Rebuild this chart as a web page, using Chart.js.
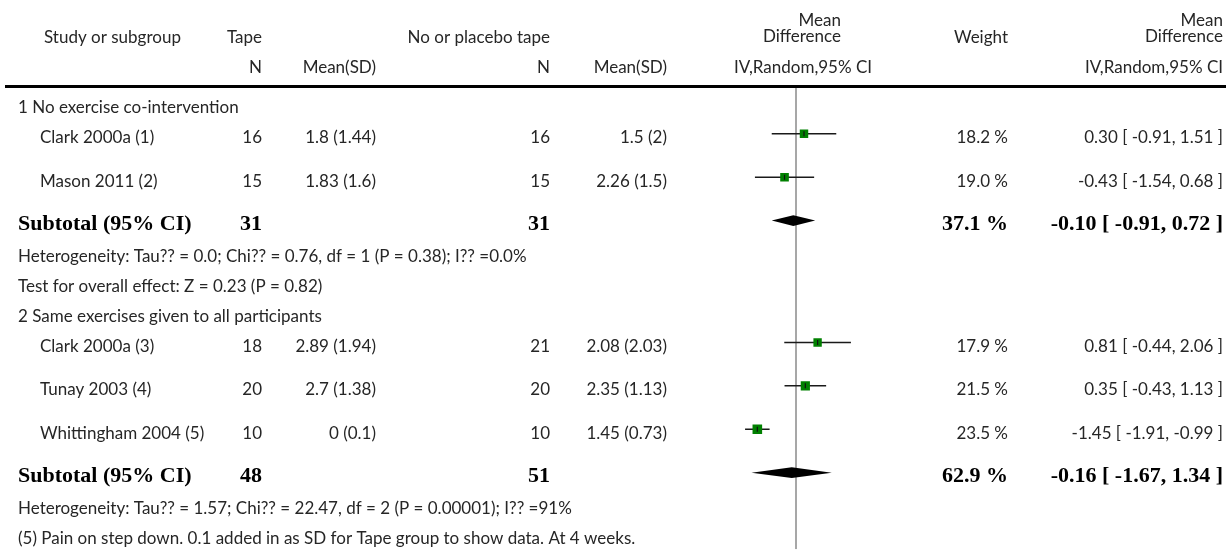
<!DOCTYPE html>
<html>
<head>
<meta charset="utf-8">
<script src="https://cdn.jsdelivr.net/npm/chart.js@4"></script>
<style>
  body { margin: 0; background: #fff; }
  #wrap { position: relative; width: 1226px; height: 556px; }
</style>
</head>
<body>
<div id="wrap"><canvas id="forestChart"></canvas></div>
<script>
// study rows
const studies = ['Clark 2000a (1)', 'Mason 2011 (2)', 'Clark 2000a (3)', 'Tunay 2003 (4)', 'Whittingham 2004 (5)'];
const studyGroup = [0, 0, 1, 1, 1];
const tapeN = [16, 15, 18, 20, 10];
const tapeMeanSD = ['1.8 (1.44)', '1.83 (1.6)', '2.89 (1.94)', '2.7 (1.38)', '0 (0.1)'];
const ctrlN = [16, 15, 21, 20, 10];
const ctrlMeanSD = ['1.5 (2)', '2.26 (1.5)', '2.08 (2.03)', '2.35 (1.13)', '1.45 (0.73)'];
const weights = [18.2, 19.0, 17.9, 21.5, 23.5];
const meanDiff = [0.30, -0.43, 0.81, 0.35, -1.45];
const ciLow = [-0.91, -1.54, -0.44, -0.43, -1.91];
const ciHigh = [1.51, 0.68, 2.06, 1.13, -0.99];

// subgroups
const groupNames = ['1 No exercise co-intervention', '2 Same exercises given to all participants'];
const subTapeN = [31, 48];
const subCtrlN = [31, 51];
const subWeight = [37.1, 62.9];
const subMD = [-0.10, -0.16];
const subLow = [-0.91, -1.67];
const subHigh = [0.72, 1.34];
const heterogeneity = [
    'Heterogeneity: Tau?? = 0.0; Chi?? = 0.76, df = 1 (P = 0.38); I?? =0.0%',
    'Heterogeneity: Tau?? = 1.57; Chi?? = 22.47, df = 2 (P = 0.00001); I?? =91%'
];
const overallEffect = ['Test for overall effect: Z = 0.23 (P = 0.82)', null];
const footnote = '(5) Pain on step down. 0.1 added in as SD for Tape group to show data. At 4 weeks.';

const xMin = -3, xMax = 3;

// build row order; rows after a study are taller
const rows = [];
groupNames.forEach((name, g) => {
    rows.push({ kind: 'group', text: name });
    studies.forEach((s, i) => { if (studyGroup[i] === g) rows.push({ kind: 'study', i: i }); });
    rows.push({ kind: 'subtotal', g: g });
    rows.push({ kind: 'text', text: heterogeneity[g] });
    if (overallEffect[g]) rows.push({ kind: 'text', text: overallEffect[g] });
});
rows.push({ kind: 'text', text: footnote });

let yPos = 0.52;
rows.forEach((r, k) => {
    if (k > 0) {
        const prev = rows[k - 1].kind;
        yPos += prev === 'study' ? 1.42 : prev === 'subtotal' ? 1.05 : 0.98;
    }
    r.y = yPos;
});
const studyY = [];
const subY = [];
rows.forEach(r => {
    if (r.kind === 'study') studyY[r.i] = r.y;
    if (r.kind === 'subtotal') subY[r.g] = r.y;
});

const fmt = v => v.toFixed(2);
const ciText = (m, lo, hi) => `${fmt(m)} [ ${fmt(lo)}, ${fmt(hi)} ]`;

const REG = "17px Lato";
const BOLD = "bold 22px 'Liberation Serif'";
const TXT = '#262626';
const TEXT_DY = 4;

// column anchors (right edges, except name/study)
const col = { name: 18, study: 40, tapeN: 262, tapeMean: 376, ctrlN: 550, ctrlMean: 667, weight: 1008, md: 1223 };

const tablePlugin = {
    id: 'tablePlugin',
    afterDatasetsDraw(chart) {
        const ctx = chart.ctx;
        const xs = chart.scales.x, ys = chart.scales.y;
        ctx.save();

        // subtotal diamonds
        ctx.fillStyle = '#000';
        subMD.forEach((m, g) => {
            const y = ys.getPixelForValue(subY[g]);
            ctx.beginPath();
            ctx.moveTo(xs.getPixelForValue(subLow[g]), y);
            ctx.lineTo(xs.getPixelForValue(m), y - 5.3);
            ctx.lineTo(xs.getPixelForValue(subHigh[g]), y);
            ctx.lineTo(xs.getPixelForValue(m), y + 5.3);
            ctx.closePath();
            ctx.fill();
        });

        const txt = (s, x, y, align, font) => {
            ctx.font = font || REG;
            ctx.textAlign = align || 'left';
            ctx.fillText(s, x, y);
        };
        ctx.fillStyle = TXT;
        ctx.textBaseline = 'middle';

        // header
        txt('Study or subgroup', 44, 38);
        txt('Tape', col.tapeN, 38, 'right');
        txt('No or placebo tape', col.ctrlN, 38, 'right');
        txt('Mean', 841, 21, 'right');
        txt('Difference', 841, 37, 'right');
        txt('Weight', col.weight, 38, 'right');
        txt('Mean', col.md, 21, 'right');
        txt('Difference', col.md, 37, 'right');
        txt('N', col.tapeN, 68, 'right');
        txt('Mean(SD)', col.tapeMean, 68, 'right');
        txt('N', col.ctrlN, 68, 'right');
        txt('Mean(SD)', col.ctrlMean, 68, 'right');
        txt('IV,Random,95% CI', 803, 68, 'center');
        txt('IV,Random,95% CI', col.md, 68, 'right');

        ctx.fillStyle = '#000';
        ctx.fillRect(5, 85, 1221, 3);
        ctx.fillStyle = TXT;

        rows.forEach(r => {
            const y = ys.getPixelForValue(r.y) + TEXT_DY;
            if (r.kind === 'group' || r.kind === 'text') {
                txt(r.text, col.name, y);
            } else if (r.kind === 'study') {
                const i = r.i;
                txt(studies[i], col.study, y);
                txt(String(tapeN[i]), col.tapeN, y, 'right');
                txt(tapeMeanSD[i], col.tapeMean, y, 'right');
                txt(String(ctrlN[i]), col.ctrlN, y, 'right');
                txt(ctrlMeanSD[i], col.ctrlMean, y, 'right');
                txt(weights[i].toFixed(1) + ' %', col.weight, y, 'right');
                txt(ciText(meanDiff[i], ciLow[i], ciHigh[i]), col.md, y, 'right');
            } else if (r.kind === 'subtotal') {
                const g = r.g;
                ctx.fillStyle = '#000';
                txt('Subtotal (95% CI)', col.name, y, 'left', BOLD);
                txt(String(subTapeN[g]), col.tapeN, y, 'right', BOLD);
                txt(String(subCtrlN[g]), col.ctrlN, y, 'right', BOLD);
                txt(subWeight[g].toFixed(1) + ' %', col.weight, y, 'right', BOLD);
                txt(ciText(subMD[g], subLow[g], subHigh[g]), col.md, y, 'right', BOLD);
                ctx.fillStyle = TXT;
            }
        });
        ctx.restore();
    }
};

const datasets = [];
// small tick at each point estimate
datasets.push({
    data: meanDiff.map((m, i) => ({ x: m, y: studyY[i] })),
    pointStyle: 'line', rotation: 90, pointRadius: 2.5,
    borderColor: '#111', borderWidth: 1.2, showLine: false
});
// squares sized by weight
datasets.push({
    data: meanDiff.map((m, i) => ({ x: m, y: studyY[i] })),
    pointStyle: 'rect',
    pointRadius: weights.map(w => Math.sqrt(w) * 1.4),
    backgroundColor: '#008000', borderColor: '#008000', borderWidth: 0, showLine: false
});
// confidence intervals
studies.forEach((s, i) => {
    datasets.push({
        data: [{ x: ciLow[i], y: studyY[i] }, { x: ciHigh[i], y: studyY[i] }],
        showLine: true, pointRadius: 0, borderColor: '#1a1a1a', borderWidth: 1.5
    });
});
// line of no effect
datasets.push({
    data: [{ x: 0, y: 0 }, { x: 0, y: 468 / 31 }],
    showLine: true, pointRadius: 0, borderColor: '#8a8a8a', borderWidth: 1.5
});

const ctx = document.getElementById('forestChart').getContext('2d');
const chart = new Chart(ctx, {
    type: 'scatter',
    data: { datasets: datasets },
    options: {
        responsive: true,
        maintainAspectRatio: false,
        animation: false,
        layout: { padding: { left: 716, right: 350, top: 88, bottom: 0 } },
        scales: {
            x: { type: 'linear', min: xMin, max: xMax, display: false },
            y: { type: 'linear', min: 0, max: 468 / 31, reverse: true, display: false }
        },
        plugins: {
            legend: { display: false },
            tooltip: { enabled: false }
        },
        elements: { point: { hoverRadius: 0 } }
    },
    plugins: [tablePlugin]
});
</script>
</body>
</html>
